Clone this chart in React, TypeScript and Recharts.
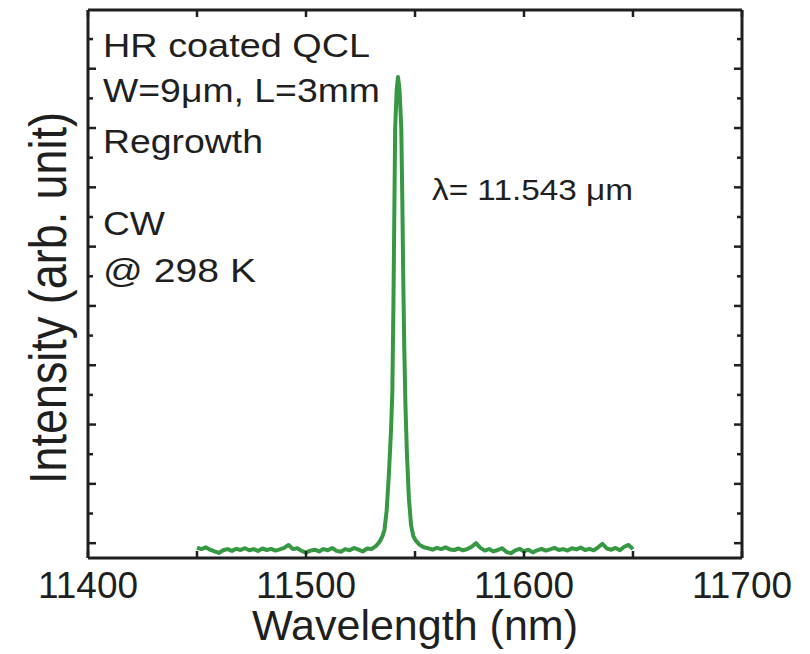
import { LineChart, Line, XAxis, YAxis } from 'recharts';

// spectrum (nm, arb. unit)
const wavelength = [
  11450, 11452, 11454, 11456, 11458, 11460, 11462, 11464, 11466, 11468,
  11470, 11472, 11474, 11476, 11478, 11480, 11482, 11484, 11486, 11488,
  11490, 11492, 11494, 11496, 11498, 11500, 11502, 11504, 11506, 11508,
  11510, 11512, 11514, 11516, 11518, 11520, 11522, 11524, 11526, 11528,
  11530, 11532, 11533, 11534, 11535, 11536, 11537, 11538, 11539, 11539.6,
  11540.1, 11540.5, 11540.9, 11541.6, 11542.2, 11542.9, 11543.7, 11544.2, 11544.6, 11545.1,
  11545.6, 11546.3, 11547.2, 11548.2, 11549.2, 11550.2, 11551, 11552, 11554, 11556,
  11558, 11560, 11562, 11564, 11566, 11568, 11570, 11572, 11574, 11576,
  11578, 11580, 11582, 11584, 11586, 11588, 11590, 11592, 11594, 11596,
  11598, 11600, 11602, 11604, 11606, 11608, 11610, 11612, 11614, 11616,
  11618, 11620, 11622, 11624, 11626, 11628, 11630, 11632, 11634, 11636,
  11638, 11640, 11642, 11644, 11646, 11648, 11650,
];
const intensity = [
  0.035, 0.03, 0.036, 0.028, 0.022, 0.017, 0.026, 0.03, 0.024, 0.031,
  0.027, 0.033, 0.026, 0.03, 0.024, 0.032, 0.027, 0.031, 0.025, 0.029,
  0.034, 0.044, 0.03, 0.033, 0.024, 0.018, 0.025, 0.028, 0.022, 0.03,
  0.026, 0.034, 0.024, 0.021, 0.03, 0.026, 0.034, 0.028, 0.022, 0.032,
  0.03, 0.04, 0.048, 0.058, 0.072, 0.095, 0.16, 0.28, 0.43, 0.56,
  0.85, 1.15, 1.45, 1.58, 1.622, 1.58, 1.45, 1.2, 0.95, 0.7,
  0.52, 0.35, 0.2, 0.11, 0.075, 0.06, 0.054, 0.045, 0.036, 0.033,
  0.028, 0.034, 0.03, 0.036, 0.029, 0.027, 0.032, 0.026, 0.03, 0.038,
  0.05, 0.034, 0.025, 0.03, 0.022, 0.027, 0.033, 0.02, 0.016, 0.026,
  0.031, 0.022, 0.028, 0.019, 0.026, 0.031, 0.025, 0.029, 0.034, 0.027,
  0.03, 0.025, 0.033, 0.029, 0.035, 0.027, 0.031, 0.026, 0.036, 0.048,
  0.032, 0.028, 0.034, 0.026, 0.038, 0.044, 0.03,
];

const xTicks = [11400, 11450, 11500, 11550, 11600, 11650, 11700];
const xLabels = [11400, 11500, 11600, 11700];
const yTicks = [
  0.05, 0.15, 0.25, 0.35, 0.45, 0.55, 0.65, 0.75, 0.85,
  0.95, 1.05, 1.15, 1.25, 1.35, 1.45, 1.55, 1.65, 1.75,
];

const notes = ['HR coated QCL', 'W=9μm, L=3mm', 'Regrowth', 'CW', '@ 298 K'];
const noteWidths = [267, 277, 160, 62, 153];
const noteBaselines = [57, 102, 153, 235, 282];
const peakNote = 'λ= 11.543 μm';

const data = wavelength.map((w, i) => ({ w, v: intensity[i] }));

const INK = '#1f1f1f';
const FONT = '"Liberation Sans", Arial, Helvetica, sans-serif';

const isMajor = (v: number) => Math.round((v - 0.05) / 0.1) % 2 === 0;

const BottomTick = ({ x, y, payload }: any) => (
  <g>
    <line x1={x} y1={y} x2={x} y2={y - 7} stroke={INK} strokeWidth={2.5} />
    {xLabels.includes(payload.value) && (
      <text
        x={x}
        y={y + 40}
        textAnchor="middle"
        fontSize={36}
        textLength={100}
        lengthAdjust="spacingAndGlyphs"
        fill={INK}
        fontFamily={FONT}
      >
        {payload.value}
      </text>
    )}
  </g>
);

const TopTick = ({ x, y }: any) => (
  <line x1={x} y1={y} x2={x} y2={y + 7} stroke={INK} strokeWidth={2.5} />
);

const LeftTick = ({ x, y, payload }: any) => (
  <line x1={x} y1={y} x2={x + (isMajor(payload.value) ? 8 : 5)} y2={y} stroke={INK} strokeWidth={2.5} />
);

const RightTick = ({ x, y, payload }: any) => (
  <line x1={x} y1={y} x2={x - (isMajor(payload.value) ? 8 : 5)} y2={y} stroke={INK} strokeWidth={2.5} />
);

const XLabel = ({ viewBox }: any) => (
  <text
    x={viewBox.x + viewBox.width / 2}
    y={viewBox.y + 82}
    textAnchor="middle"
    fontSize={42}
    textLength={326}
    lengthAdjust="spacingAndGlyphs"
    fill={INK}
    fontFamily={FONT}
  >
    Wavelength (nm)
  </text>
);

const YLabel = ({ viewBox }: any) => {
  const cx = viewBox.x + 66;
  const cy = viewBox.y + viewBox.height / 2 + 14;
  return (
    <text
      x={cx}
      y={cy}
      transform={`rotate(-90 ${cx} ${cy})`}
      textAnchor="middle"
      fontSize={51}
      textLength={372}
      lengthAdjust="spacingAndGlyphs"
      fill={INK}
      fontFamily={FONT}
    >
      Intensity (arb. unit)
    </text>
  );
};

export default function App() {
  return (
    <div style={{ position: 'absolute', left: 0, top: 0, background: '#fff' }}>
      <LineChart width={810} height={654} data={data} margin={{ top: 0, right: 0, bottom: 0, left: 0 }}>
        <XAxis
          dataKey="w"
          type="number"
          domain={[11400, 11700]}
          ticks={xTicks}
          interval={0}
          height={96}
          tickSize={0}
          tickMargin={0}
          tickLine={false}
          axisLine={{ stroke: INK, strokeWidth: 3 }}
          tick={<BottomTick />}
          allowDataOverflow
          label={{ content: <XLabel /> }}
        />
        <XAxis
          xAxisId="top"
          orientation="top"
          dataKey="w"
          type="number"
          domain={[11400, 11700]}
          ticks={xTicks}
          interval={0}
          height={10}
          tickSize={0}
          tickMargin={0}
          tickLine={false}
          axisLine={{ stroke: INK, strokeWidth: 3 }}
          tick={<TopTick />}
          allowDataOverflow
        />
        <YAxis
          type="number"
          domain={[0, 1.848]}
          ticks={yTicks}
          interval={0}
          width={88}
          tickSize={0}
          tickMargin={0}
          tickLine={false}
          axisLine={{ stroke: INK, strokeWidth: 3 }}
          tick={<LeftTick />}
          allowDataOverflow
          label={{ content: <YLabel /> }}
        />
        <YAxis
          yAxisId="right"
          orientation="right"
          type="number"
          domain={[0, 1.848]}
          ticks={yTicks}
          interval={0}
          width={68}
          tickSize={0}
          tickMargin={0}
          tickLine={false}
          axisLine={{ stroke: INK, strokeWidth: 3 }}
          tick={<RightTick />}
          allowDataOverflow
        />
        <Line
          type="linear"
          dataKey="v"
          stroke="#379844"
          strokeWidth={4}
          strokeLinejoin="round"
          dot={false}
          activeDot={false}
          isAnimationActive={false}
        />
        {notes.map((t, i) => (
          <text
            key={t}
            x={103}
            y={noteBaselines[i]}
            fontSize={34}
            textLength={noteWidths[i]}
            lengthAdjust="spacingAndGlyphs"
            fill={INK}
            fontFamily={FONT}
          >
            {t}
          </text>
        ))}
        <text
          x={432}
          y={200}
          fontSize={30}
          textLength={201}
          lengthAdjust="spacingAndGlyphs"
          fill={INK}
          fontFamily={FONT}
        >
          {peakNote}
        </text>
      </LineChart>
    </div>
  );
}
